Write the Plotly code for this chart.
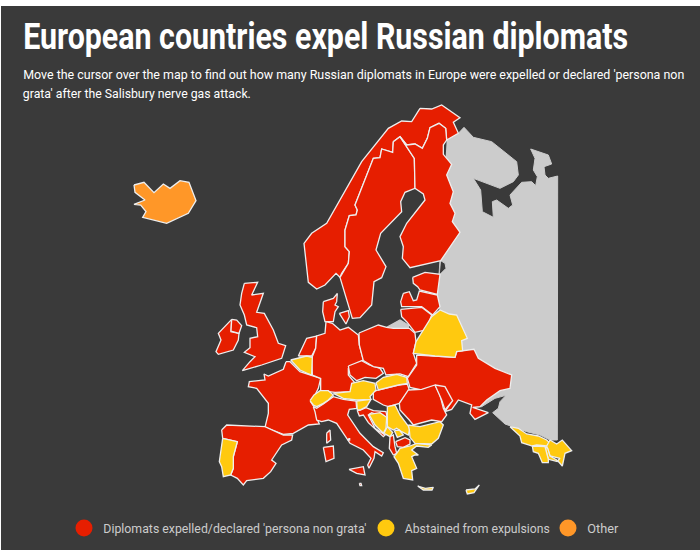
import plotly.graph_objects as go

ORIGINS = {'a': (290, 95), 'b': (200, 270), 'c': (380, 300), 'd': (120, 170), 'f': (300, 340),
           'g': (505, 420), 'h': (205, 275)}

RED = '#e61e00'
YELLOW = '#ffc90f'
ORANGE = '#ff9728'
GREY = '#cccccc'
DARK = '#3a3a3a'

russia_north = [(470,135),(505,115),(522,97),(550,127),(605,140),(680,200),(685,240),(670,260),(630,280),(550,250),(572,285),(577,350),(610,367),(607,320),(620,315),(655,340),(668,330),(660,300),(695,262),(725,260),(737,272),(742,245),(730,225),(735,190),(722,162),(775,180),(785,207),(762,215),(765,240),(775,250),(803,243)]
russia_south = [(532,420),(510,420),(480,405),(440,395),(395,378),(375,372),(338,338),(355,325),(360,305),(378,286),(345,295),(320,310),(305,320),(278,322),(250,250),(200,140),(180,35)]
russia_gulf = [(442,600),(450,538),(468,520),(465,505),(452,497),(470,300)]
kaliningrad = [(20,82),(60,60),(85,75),(85,88),(40,85)]

norway = [(390,40),(425,42),(455,30),(510,68),(490,82),(505,115),(470,135),(467,100),(447,85),(420,98),(412,130),(397,160),(375,147),(350,150),(330,125),(310,140),(308,172),(275,162),(270,188),(250,190),(195,330),(202,345),(198,360),(178,362),(165,405),(165,455),(178,470),(175,505),(155,535),(150,547),(138,535),(105,570),(80,582),(55,562),(42,445),(65,415),(110,385),(215,200),(295,100),(335,78),(365,80)]
sweden = [(310,140),(330,125),(373,190),(375,280),(345,292),(332,320),(335,350),(272,415),(258,465),(288,515),(275,548),(252,560),(245,630),(210,668),(187,670),(150,547),(175,505),(178,470),(165,455),(165,405),(178,362),(198,360),(202,345),(195,330),(250,190),(270,188),(275,162),(308,172)]
finland = [(330,125),(350,150),(375,147),(397,160),(412,130),(420,98),(447,85),(467,100),(470,135),(460,150),(460,178),(485,208),(470,240),(490,290),(480,325),(495,355),(487,380),(510,412),(452,497),(360,518),(337,490),(340,455),(330,425),(350,385),(405,315),(400,297),(378,282),(375,280),(373,190)]
estonia = [(368,547),(405,532),(450,538),(442,598),(390,585),(383,575),(370,565)]
latvia = [(340,595),(358,590),(370,617),(380,615),(388,588),(442,600),(450,635),(428,660),(395,635),(335,635),(332,620)]
lithuania = [(332,643),(395,637),(425,660),(408,705),(375,712),(350,680),(335,665)]

denmark = [(370,95),(400,85),(412,70),(410,95),(405,105),(415,110),(405,125),(400,155),(375,155),(368,125)]
zealand = [(418,130),(445,122),(448,140),(438,162)]
britain = [(118,25),(158,22),(140,60),(175,55),(155,112),(178,115),(205,165),(220,205),(242,212),(230,250),(170,270),(112,287),(135,260),(150,245),(118,232),(135,218),(135,190),(158,185),(155,158),(125,150),(118,120),(105,90),(110,55)]
ireland = [(80,133),(78,170),(102,175),(100,195),(85,225),(40,238),(33,230),(48,195),(40,175)]
n_ireland = [(80,133),(95,135),(110,152),(102,175),(78,168)]
france = [(258,275),(270,275),(300,305),(335,315),(362,325),(355,355),(345,375),(332,395),(348,420),(350,445),(358,462),(325,465),(280,490),(250,493),(195,472),(205,430),(205,400),(170,355),(145,350),(148,335),(195,330),(192,312),(205,318),(250,298)]
netherlands = [(295,258),(320,205),(350,198),(347,235),(335,258)]
belgium = [(272,270),(320,258),(337,262),(335,315),(322,310),(300,300)]
germany = [(378,155),(397,160),(420,180),(445,172),(475,195),(478,225),(490,270),(445,295),(445,315),(470,345),(452,365),(405,367),(362,362),(362,325),(337,315),(335,265),(347,235),(350,198),(375,190)]
malta = [(478,640),(483,640),(485,647),(480,647)]
portugal = [(68,505),(112,515),(100,560),(100,595),(92,615),(70,620),(65,590),(58,575)]
spain = [(65,480),(80,465),(195,470),(250,495),(278,495),(275,510),(245,525),(215,570),(228,580),(212,605),(190,625),(140,632),(130,645),(112,625),(92,615),(100,595),(100,560),(112,515),(68,505)]

poland = [(-63,99),(-5,75),(20,82),(40,85),(88,85),(105,100),(108,125),(100,160),(110,190),(85,230),(60,222),(35,225),(18,225),(10,205),(-20,200),(-50,182),(-62,135)]
ukraine = [(110,165),(165,168),(225,172),(230,155),(282,148),(295,175),(345,205),(395,225),(390,265),(360,272),(320,300),(300,320),(278,322),(325,338),(285,358),(270,340),(275,315),(235,300),(215,328),(195,335),(215,305),(195,265),(165,258),(125,270),(90,262),(82,235),(110,195)]
belarus = [(108,125),(155,50),(180,30),(208,42),(230,45),(262,115),(245,122),(248,152),(230,155),(225,172),(165,168),(100,160)]
cyprus = [(258,570),(285,567),(298,555),(282,578),(262,582)]
iceland = [(42,45),(72,37),(102,68),(130,42),(150,55),(180,32),(207,37),(228,92),(205,130),(140,160),(68,142),(78,125),(62,105),(42,103),(75,90),(45,67)]

georgia = [(15,20),(40,25),(65,42),(100,48),(125,60),(138,72),(125,78),(95,75),(82,78),(50,68),(45,48)]
azerbaijan = [(135,60),(155,72),(172,60),(200,92),(180,100),(172,138),(158,122),(165,115),(135,108),(128,85),(125,78)]
armenia = [(120,80),(128,85),(135,108),(155,120),(158,125),(130,118)]
nakhchivan = [(82,78),(120,80),(130,118),(130,128),(112,128),(100,100),(85,95)]

czechia = [(145,78),(185,62),(208,75),(240,85),(250,100),(228,115),(195,112),(170,122),(150,105)]
slovakia = [(228,128),(250,112),(290,103),(320,112),(322,130),(295,135),(235,150)]
hungary = [(220,155),(235,150),(295,135),(322,132),(328,150),(298,190),(265,200),(250,195),(220,178)]
austria = [(100,160),(150,155),(155,130),(190,122),(225,130),(228,150),(210,170),(213,178),(170,180),(130,175)]
slovenia = [(170,183),(213,178),(200,200),(180,210),(172,210)]
switzerland = [(30,182),(42,165),(60,152),(85,152),(100,165),(85,180),(70,190),(50,200),(40,195)]
italy = [(40,200),(50,205),(70,192),(85,182),(100,170),(130,178),(168,183),(170,205),(148,208),(143,225),(180,280),(220,320),(250,338),(245,348),(225,335),(222,355),(207,385),(203,375),(213,355),(190,330),(150,310),(110,250),(85,240),(65,245),(50,240),(45,215)]
elba = [(145,296),(149,296),(149,300),(145,300)]
sicily = [(147,388),(190,380),(195,405),(170,400)]
sardinia = [(70,322),(100,318),(102,355),(78,365)]
corsica = [(80,280),(90,270),(92,300),(80,310)]
croatia = [(172,212),(182,210),(198,203),(220,212),(258,215),(262,235),(215,218),(205,225),(225,265),(255,285),(250,290),(205,248),(190,225),(178,228)]
bosnia = [(207,223),(240,218),(260,232),(258,265),(250,280),(225,255)]
serbia = [(262,200),(285,195),(300,225),(330,265),(325,285),(305,275),(290,265),(280,270),(262,260),(262,235)]
montenegro = [(252,280),(262,260),(278,278),(270,290)]
kosovo = [(283,272),(298,270),(310,285),(292,292)]
albania = [(270,290),(280,285),(285,320),(290,340),(280,345),(268,325)]
macedonia = [(287,305),(315,293),(330,300),(330,312),(310,322),(292,320)]
bulgaria = [(325,255),(360,260),(420,245),(430,255),(415,295),(395,312),(345,310),(330,292),(328,270)]
greece = [(290,340),(300,325),(330,318),(350,310),(395,315),(385,322),(350,318),(335,330),(355,345),(345,345),(335,350),(350,385),(335,392),(338,420),(310,415),(295,370),(282,350)]
crete = [(353,438),(376,445),(400,442),(396,450),(370,450)]
romania = [(298,190),(325,150),(365,148),(405,135),(420,165),(430,205),(440,225),(425,245),(395,240),(340,255),(328,240),(300,210)]
moldova = [(405,135),(435,140),(458,182),(435,210),(425,180)]

expelled = [('a', norway), ('a', sweden), ('a', finland), ('a', estonia), ('a', latvia), ('a', lithuania),
            ('b', denmark), ('b', zealand), ('h', britain), ('h', ireland), ('h', n_ireland), ('b', france),
            ('b', netherlands), ('b', germany), ('f', czechia), ('f', italy), ('f', elba), ('f', sicily),
            ('b', malta), ('f', sardinia), ('f', corsica), ('f', croatia), ('b', spain), ('c', poland),
            ('f', hungary), ('f', albania), ('f', macedonia), ('c', ukraine), ('f', romania), ('f', moldova)]
abstained = [('b', belgium), ('f', switzerland), ('f', austria), ('f', slovenia), ('f', bosnia), ('b', portugal),
             ('f', slovakia), ('f', serbia), ('f', montenegro), ('f', kosovo), ('f', greece), ('f', bulgaria),
             ('c', belarus), ('g', georgia), ('g', azerbaijan), ('g', armenia), ('g', nakhchivan),
             ('c', cyprus), ('f', crete)]
other = [('d', iceland)]

legend_labels = ["Diplomats expelled/declared 'persona non grata'", 'Abstained from expulsions', 'Other']
legend_colors = [RED, YELLOW, ORANGE]
legend_x = [84, 386, 568]


def to_page(crop, points):
    ox, oy = ORIGINS[crop]
    xs = [ox + p[0] / 3 for p in points]
    ys = [oy + p[1] / 3 for p in points]
    return xs + xs[:1], ys + ys[:1]


def add_land(fig, crop, points, color, line_color='#eeeeee'):
    xs, ys = to_page(crop, points)
    fig.add_trace(go.Scatter(x=xs, y=ys, mode='lines', fill='toself', fillcolor=color,
                             line=dict(color=line_color, width=1.3), hoverinfo='skip', showlegend=False))


fig = go.Figure()

# russia goes first, the neighbours are drawn on top of it
xa, ya = to_page('a', russia_north)
xc, yc = to_page('c', russia_south)
xg, yg = to_page('a', russia_gulf)
fig.add_trace(go.Scatter(x=xa[:-1] + xc[:-1] + xg, y=ya[:-1] + yc[:-1] + yg, mode='lines', fill='toself',
                         fillcolor=GREY, line=dict(color=GREY, width=1), hoverinfo='skip', showlegend=False))
add_land(fig, 'c', kaliningrad, GREY, GREY)

for crop, points in expelled:
    add_land(fig, crop, points, RED)
for crop, points in abstained:
    add_land(fig, crop, points, YELLOW)
for crop, points in other:
    add_land(fig, crop, points, ORANGE)

fig.add_trace(go.Scatter(x=legend_x, y=[528] * 3, mode='markers', hoverinfo='skip', showlegend=False,
                         marker=dict(size=17, color=legend_colors, line=dict(width=0))))

# left and right end of each text in the reference, the font is squeezed to fit (no narrow face installed)
texts = [
    dict(x0=23, x1=628, y=36, text='<b>European countries expel Russian diplomats</b>', size=37, color='#ffffff'),
    dict(x0=23, x1=684, y=74, text="Move the cursor over the map to find out how many Russian diplomats in Europe were expelled or declared 'persona non", size=13, color='#ffffff'),
    dict(x0=23, x1=251, y=93, text="grata' after the Salisbury nerve gas attack.", size=13, color='#ffffff'),
    dict(x0=103, x1=366, y=528, text=legend_labels[0], size=13, color='#cccccc'),
    dict(x0=405, x1=550, y=528, text=legend_labels[1], size=13, color='#cccccc'),
    dict(x0=587, x1=618, y=528, text=legend_labels[2], size=13, color='#cccccc'),
]
for t in texts:
    fig.add_annotation(x=(t['x0'] + t['x1']) / 2, y=t['y'], text=t['text'], showarrow=False, xanchor='center',
                       yanchor='middle', font=dict(family='Roboto', size=t['size'], color=t['color']))

fig.update_layout(
    width=700, height=550,
    margin=dict(l=0, r=0, t=0, b=0),
    paper_bgcolor='#ffffff',
    plot_bgcolor='#ffffff',
    xaxis=dict(range=[0, 700], visible=False, fixedrange=True),
    yaxis=dict(range=[550, 0], visible=False, fixedrange=True),
    shapes=[dict(type='rect', layer='below', x0=1, x1=700, y0=6, y1=550, fillcolor=DARK, line=dict(width=0))],
)

widths = [t['x1'] - t['x0'] for t in texts]
squeeze = """
document.body.style.margin = '0';
var widths = %s;
document.querySelectorAll('.annotation-text').forEach(function (el, i) {
    el.setAttribute('textLength', widths[i]);
    el.setAttribute('lengthAdjust', 'spacingAndGlyphs');
});
""" % widths

fig.write_html('out.html', post_script=squeeze, config={'displayModeBar': False})
